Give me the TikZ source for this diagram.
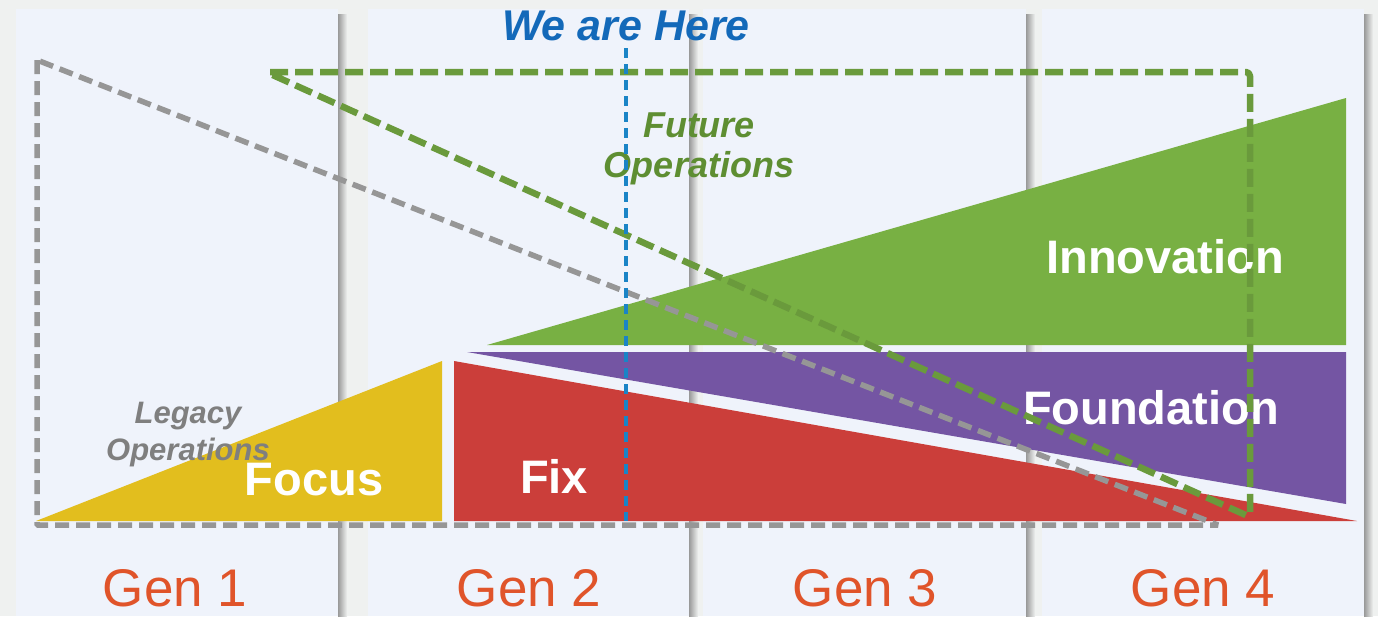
\documentclass[tikz,border=0pt]{standalone}
\usepackage{fontspec}
\setmainfont{Liberation Sans}
\definecolor{bgc}{HTML}{EFF1F0}
\definecolor{panelc}{HTML}{EFF3FB}
\definecolor{yel}{HTML}{E2BE1E}
\definecolor{redc}{HTML}{CB3E3A}
\definecolor{purp}{HTML}{7455A3}
\definecolor{grnf}{HTML}{78B043}
\definecolor{grnd}{HTML}{6A9A3C}
\definecolor{grnt}{HTML}{5E8E32}
\definecolor{grayd}{HTML}{969696}
\definecolor{grayt}{HTML}{7F7F7F}
\definecolor{bluet}{HTML}{1369B9}
\definecolor{blued}{HTML}{1A84C6}
\definecolor{orng}{HTML}{E0542A}
\tikzset{
  panel/.style={fill=panelc, draw=none},
  pshadow/.style={left color=black!40, right color=bgc, draw=none},
  whitelbl/.style={text=white, font=\bfseries\fontsize{47}{50}\selectfont, inner sep=0pt, anchor=base},
  genlbl/.style={text=orng, font=\fontsize{53}{56}\selectfont, inner sep=0pt, anchor=base},
  grayline/.style={draw=grayd, line width=5.5pt, dash pattern=on 14pt off 7pt, line join=bevel},
  greenline/.style={draw=grnd, line width=6.5pt, dash pattern=on 18pt off 7pt, line join=bevel},
  blueline/.style={draw=blued, line width=4pt, dash pattern=on 10pt off 6pt},
}
\begin{document}
\begin{tikzpicture}[x=1pt,y=-1pt]
\useasboundingbox (0,0) rectangle (1378,616);
\fill[bgc] (0,0) rectangle (1378,616);
% panels with shadows
\foreach \l/\r in {16/338, 368/689, 703/1026, 1042/1364}{
  \fill[pshadow] (\r,14) rectangle (\r+9,616);
  \fill[panel] (\l,9) rectangle (\r,616);
}
% shapes
\fill[yel] (36,521) -- (442,361) -- (442,521) -- cycle;
\fill[redc] (454,361) -- (1357,521) -- (454,521) -- cycle;
\fill[purp] (467,352) -- (1346,352) -- (1346,504) -- cycle;
\fill[grnf] (487,345) -- (1346,98) -- (1346,345) -- cycle;
% labels
\node[whitelbl] (focus) at (314,495) {Focus};
\node[whitelbl] (fix) at (554,493) {Fix};
\node[whitelbl] (innov) at (1165,273) {Innovation};
\node[whitelbl] (found) at (1151,424) {Foundation};
\node[text=grayt, font=\bfseries\itshape\fontsize{31}{37}\selectfont, align=center, inner sep=0pt, anchor=base] (legacy) at (188,460) {Legacy\\Operations};
\node[text=grnt, font=\bfseries\itshape\fontsize{36}{40}\selectfont, align=center, inner sep=0pt, anchor=base] (future) at (699,177) {Future\\Operations};
\node[text=bluet, font=\bfseries\itshape\fontsize{43}{46}\selectfont, inner sep=0pt, anchor=base] (here) at (626,40) {We are Here};
\node[genlbl] (g1) at (175,606) {Gen 1};
\node[genlbl] (g2) at (529,606) {Gen 2};
\node[genlbl] (g3) at (865,606) {Gen 3};
\node[genlbl] (g4) at (1203,606) {Gen 4};
% dashed outlines
\coordinate (la) at (37,60);
\coordinate (lb) at (37,525);
\coordinate (lc) at (1218,525);
\draw[grayline] (la) -- (lb) -- (lc) -- cycle;
\coordinate (fa) at (266,72);
\coordinate (fb) at (1250,72);
\coordinate (fc) at (1250,517);
\draw[greenline, rounded corners=4pt] (fa) -- (fb) -- (fc) -- cycle;
\coordinate (ha) at (626,48);
\coordinate (hb) at (626,521);
\draw[blueline] (ha) -- (hb);
\end{tikzpicture}
\end{document}
